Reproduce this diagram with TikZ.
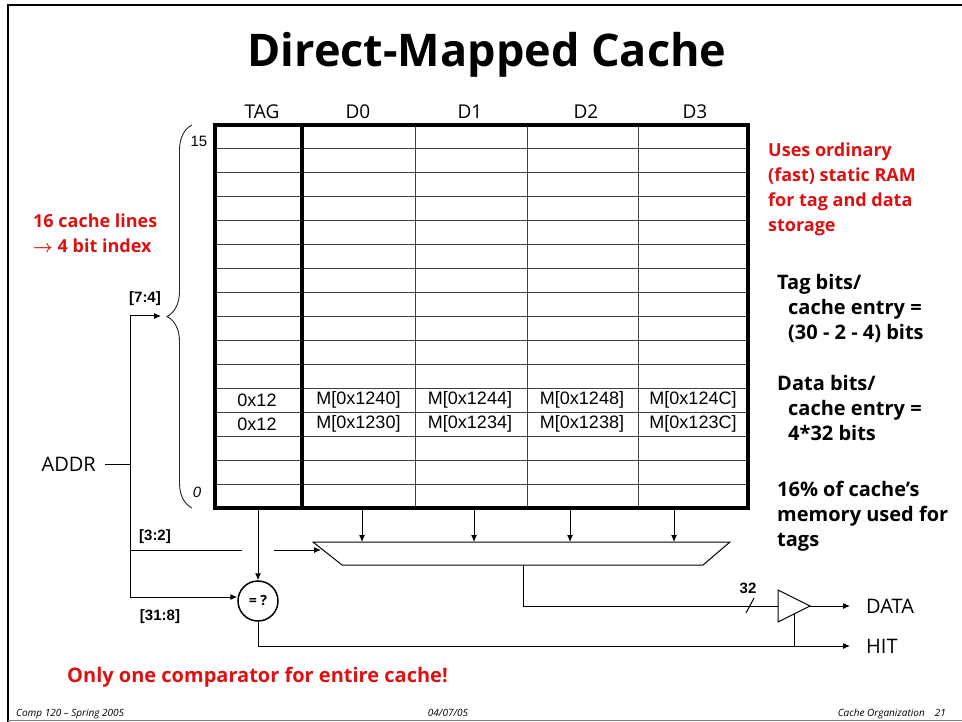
\documentclass[tikz,border=0pt]{standalone}
\usepackage{fontspec}
\setmainfont{Open Sans}
\newfontfamily\arialfont{Liberation Sans}
\usepackage{tikz}
\usetikzlibrary{arrows.meta, decorations.pathreplacing}
\definecolor{notered}{RGB}{221,17,17}

\begin{document}
\begin{tikzpicture}[
    x=1pt, y=-1pt,
    frame/.style={line width=2.5pt},
    thickline/.style={line width=3.5pt},
    gridline/.style={line width=1pt, black!75},
    wire/.style={line width=1pt},
    arrow/.style={-{Latex[length=7pt,width=6pt]}, line width=1pt},
    title/.style={font=\bfseries\fontsize{45}{48}\selectfont},
    colhead/.style={font=\fontsize{19}{21}\selectfont},
    cell/.style={font=\arialfont\fontsize{18}{20}\selectfont},
    bits/.style={font=\arialfont\bfseries\fontsize{15}{17}\selectfont},
    note/.style={font=\bfseries\fontsize{20}{25}\selectfont, align=left,
                 anchor=north west, inner sep=0pt},
    rednote/.style={note, font=\bfseries\fontsize{18}{25}\selectfont, text=notered},
    sig/.style={font=\fontsize{20}{22}\selectfont, inner sep=0pt},
    cmpbox/.style={draw, circle, line width=1.5pt, minimum size=40pt,
                   inner sep=0pt, font=\bfseries\fontsize{14}{16}\selectfont},
    footer/.style={font=\itshape\fontsize{10}{12}\selectfont, inner sep=0pt}
]
\useasboundingbox (0,0) rectangle (962,722);

% slide frame
\draw[frame] (8,722) -- (8,5) -- (962,5);
\draw[black!50] (8,720) -- (962,720);

\node[title] (ttl) at (487,55) {Direct-Mapped Cache};

% cache array
\foreach \r in {1,...,15}
  \draw[gridline] (215,{125+23.94*\r}) -- (748,{125+23.94*\r});
\foreach \x in {415,527,638}
  \draw[gridline] (\x,125) -- (\x,508);
\draw[thickline] (302,125) -- (302,508);
\draw[thickline] (215,125) rectangle (748,508);

\node[colhead] (htag) at (262,112) {TAG};
\node[colhead] (hd0)  at (358,112) {D0};
\node[colhead] (hd1)  at (470,112) {D1};
\node[colhead] (hd2)  at (586,112) {D2};
\node[colhead] (hd3)  at (695,112) {D3};

\node[cell] (tag4) at (257,400.3) {0x12};
\node[cell] (tag3) at (257,424.2) {0x12};
\foreach \x/\a/\b [count=\k] in {358.5/1240/1230, 470/1244/1234,
                                 582/1248/1238, 693/124C/123C} {
  \node[cell] (d\k hi) at (\x,400.3) {M[0x\a]};
  \node[cell] (d\k lo) at (\x,424.2) {M[0x\b]};
}

% index brace
\draw[decorate, decoration={brace, amplitude=25pt}, line width=0.9pt, black!85]
  (192,508) -- (192,125);
\node[cell, font=\arialfont\fontsize{15}{17}\selectfont] (top15) at (199,141) {15};
\node[cell, font=\arialfont\itshape\fontsize{15}{17}\selectfont] (bot0) at (197,492) {0};

\node[rednote] (lines) at (33,214) {16 cache lines\\{\boldmath$\rightarrow$} 4 bit index};

% address bus
\node[sig, anchor=east] (addr) at (96,464) {ADDR};
\coordinate (bus74)   at (130,316);
\coordinate (busaddr) at (130,464);
\coordinate (bus32)   at (130,550);
\coordinate (bus318)  at (130,597);
\coordinate (idx)     at (161,316);
\draw[wire, shorten <=9pt] (addr.east) -- (busaddr);
\draw[wire] (bus74) -- (bus318);
\draw[arrow] (bus74) -- (idx);
\node[bits] (b74)  at (145,299) {[7:4]};
\node[bits] (b32)  at (155,537) {[3:2]};
\node[bits] (b318) at (160,617) {[31:8]};

% mux
\coordinate (muxtl) at (313,542);
\coordinate (muxtr) at (730,542);
\coordinate (muxbr) at (703,565);
\coordinate (muxbl) at (342,565);
\coordinate (muxin) at (321,550);
\coordinate (muxout) at (523,565);
\draw[wire] (muxtl) -- (muxtr) -- (muxbr) -- (muxbl) -- cycle;
\foreach \x in {362,474,570,674}
  \draw[arrow] (\x,510) -- (\x,542);
\coordinate (hopl) at (242,550);
\coordinate (hopr) at (274,550);
\draw[wire] (bus32) -- (hopl);
\draw[arrow] (hopr) -- (muxin);

% tag compare
\node[cmpbox] (cmp) at (258,601) {= ?};
\coordinate (tagout) at (258,510);
\draw[arrow] (tagout) -- (cmp.north);
\draw[arrow] (bus318) -- (bus318 -| cmp.west);

% output driver
\coordinate (bufin)  at (778,606);
\coordinate (bufout) at (810,606);
\coordinate (bufen)  at (794,614);
\draw[wire] (778,590) -- (bufout) -- (778,622) -- cycle;
\draw[wire] (muxout) |- (bufin);
\draw[wire] (746,613) -- (754,598);
\node[bits] (w32) at (748,588) {32};

\node[sig, anchor=west] (data) at (866,606) {DATA};
\node[sig, anchor=west] (hit)  at (866,646) {HIT};
\draw[arrow, shorten >=16pt] (bufout) -- (data.west);
\draw[arrow, shorten >=16pt] (cmp.south) |- (hit.west);
\draw[wire] (bufen) -- (bufen |- hit.west);

% side notes
\node[rednote] (ram) at (768,143)
  {Uses ordinary\\(fast) static RAM\\for tag and data\\storage};
\node[note] (tagbits) at (777,274)
  {Tag bits/\\\hspace*{11pt}cache entry =\\\hspace*{11pt}(30 - 2 - 4) bits};
\node[note] (databits) at (777,375)
  {Data bits/\\\hspace*{11pt}cache entry =\\\hspace*{11pt}4*32 bits};
\node[note] (overhead) at (777,481)
  {16\% of cache's\\memory used for\\tags};
\node[rednote, font=\bfseries\fontsize{20}{25}\selectfont] (onecmp) at (67,667)
  {Only one comparator for entire cache!};

% footer
\node[footer, anchor=base west] (f1) at (16,716) {Comp 120 -- Spring 2005};
\node[footer, anchor=base]      (f2) at (448,716) {04/07/05};
\node[footer, anchor=base east] (f3) at (946,716) {Cache Organization\quad 21};
\end{tikzpicture}
\end{document}
